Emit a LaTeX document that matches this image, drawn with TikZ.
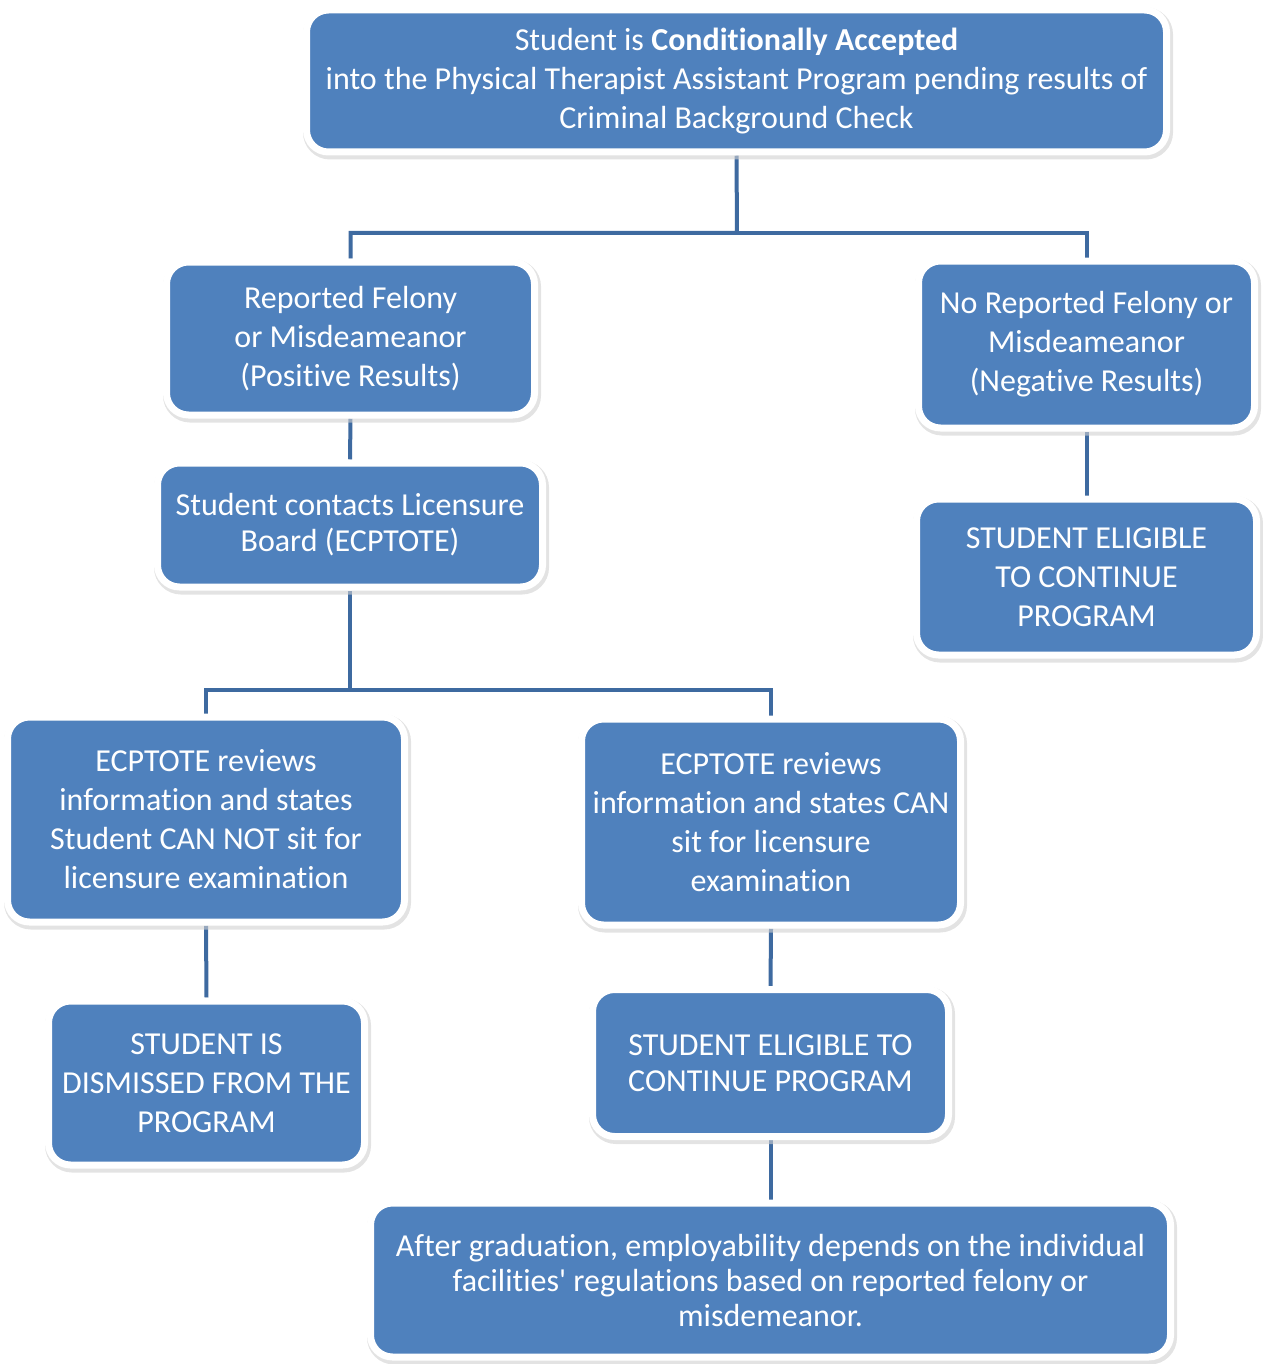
\documentclass[tikz,border=0pt]{standalone}
\usepackage{fontspec}
\setmainfont{Carlito}[Ligatures={TeXOff,CommonOff}]
\usetikzlibrary{shadows,backgrounds}
\definecolor{boxblue}{RGB}{79,129,189}
\definecolor{lineblue}{RGB}{62,106,160}
\tikzset{
  fc/.style={rounded corners=22pt, fill=boxblue, draw=white, line width=7pt,
    text=white, align=center, inner sep=0pt,
    drop shadow={fill=black!18, draw=black!18, line width=10pt, shadow xshift=1.5pt, shadow yshift=-2.5pt, opacity=0.6},
    font=\fontsize{32}{39}\selectfont},
  conn/.style={draw=lineblue, line width=4pt},
}
\newcommand{\fcbox}[6]{% name, cx, cy, w, h, text
  \node[fc, minimum width=#4pt+7pt, minimum height=#5pt+7pt] (#1) at (#2,#3) {#6};}
\begin{document}
\begin{tikzpicture}[x=1pt,y=-1pt]
\useasboundingbox (0,0) rectangle (1262,1364);
\fcbox{top}{736.5}{81}{853}{135}{Student is \textbf{Conditionally Accepted}\\into the Physical Therapist Assistant Program pending results of\\Criminal Background Check}
\fcbox{rep}{350.5}{338.5}{361}{146}{Reported Felony\\or Misdeameanor\\(Positive Results)}
\fcbox{norep}{1086.5}{344.5}{329}{160}{No Reported Felony or\\Misdeameanor\\(Negative Results)}
\node[fc, minimum width=385pt, minimum height=124pt, font=\fontsize{32}{36}\selectfont] (contact) at (350,525) {Student contacts Licensure\\Board (ECPTOTE)};
\fcbox{eligr}{1086.5}{577}{333}{149}{STUDENT ELIGIBLE\\TO CONTINUE\\PROGRAM}
\fcbox{cannot}{206}{819.5}{390}{198}{ECPTOTE reviews\\information and states\\Student CAN NOT sit for\\licensure examination}
\fcbox{can}{771}{822}{372}{199}{ECPTOTE reviews\\information and states CAN\\sit for licensure\\examination}
\fcbox{dismiss}{206.5}{1083}{309}{157}{STUDENT IS\\DISMISSED FROM THE\\PROGRAM}
\node[fc, minimum width=356pt, minimum height=147pt, font=\fontsize{32}{36}\selectfont] (eligm) at (770.5,1063) {STUDENT ELIGIBLE TO\\CONTINUE PROGRAM};
\node[fc, minimum width=800pt, minimum height=154pt, font=\fontsize{32}{35}\selectfont] (after) at (770.5,1280) {After graduation, employability depends on the individual\\facilities' regulations based on reported felony or\\misdemeanor.};
\coordinate (j1) at (737,233);
\coordinate (j2) at (350,690);
\begin{pgfonlayer}{background}
\draw[conn] (top.south) -- (j1) -| (rep.north);
\draw[conn] (j1) -| (norep.north);
\draw[conn] (rep.south) -- (contact.north);
\draw[conn] (norep.south) -- (eligr.north);
\draw[conn] (contact.south) -- (j2) -| (cannot.north);
\draw[conn] (j2) -| (can.north);
\draw[conn] (cannot.south) -- (dismiss.north);
\draw[conn] (can.south) -- (eligm.north);
\draw[conn] (eligm.south) -- (after.north);
\end{pgfonlayer}
\end{tikzpicture}
\end{document}
